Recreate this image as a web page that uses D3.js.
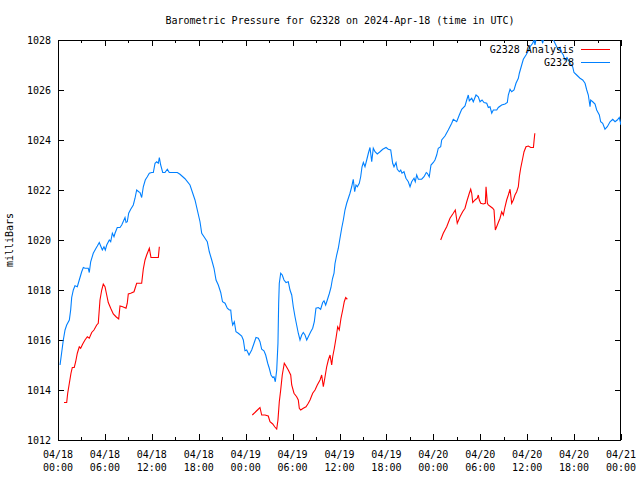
<!DOCTYPE html>
<html><head><meta charset="utf-8">
<script src="https://cdn.jsdelivr.net/npm/d3@7"></script>
<style>
body{margin:0;background:#fff;}
text{font-family:"DejaVu Sans Mono","Liberation Mono",monospace;font-size:10px;fill:#000;}
</style></head>
<body><svg id="c" width="640" height="480"></svg>
<script>
const titleText = "Barometric Pressure for G2328 on 2024-Apr-18 (time in UTC)";
const yLabel = "milliBars";
const seriesNames = ["G2328 Analysis", "G2328"];
const seriesColors = ["#ff0000", "#0080ff"];
const xTickDates = ["04/18","04/18","04/18","04/18","04/19","04/19","04/19","04/19","04/20","04/20","04/20","04/20","04/21"];
const xTickTimes = ["00:00","06:00","12:00","18:00","00:00","06:00","12:00","18:00","00:00","06:00","12:00","18:00","00:00"];
const yTicks = [1012,1014,1016,1018,1020,1022,1024,1026,1028];

// hours since 2024-04-18 00:00 UTC
const obsHours = [0.26,0.47,0.68,0.90,1.11,1.45,1.62,1.75,1.96,2.17,2.47,2.72,3.03,3.24,3.45,3.87,4.00,4.18,4.51,4.86,5.03,5.28,5.50,5.67,5.88,6.05,6.23,6.56,6.74,6.95,7.16,7.29,7.58,7.93,8.15,8.57,8.70,8.86,9.04,9.30,9.63,9.85,10.06,10.32,10.49,10.70,10.91,11.16,11.42,11.68,11.98,12.19,12.41,12.62,12.83,12.96,13.13,13.39,13.68,13.98,14.23,14.75,15.26,15.60,16.24,16.88,17.52,18.16,18.38,18.80,19.09,19.35,19.66,19.95,20.21,20.50,20.81,21.04,21.36,21.65,21.91,22.09,22.22,22.34,22.55,22.76,23.06,23.49,23.70,23.91,24.13,24.43,24.77,25.07,25.32,25.62,25.83,26.05,26.34,26.56,26.82,27.02,27.24,27.46,27.62,27.79,27.97,28.13,28.22,28.30,28.48,28.68,28.90,29.16,29.45,29.67,29.89,30.09,30.31,30.52,30.73,30.95,31.17,31.37,31.59,31.81,32.01,32.32,32.57,32.78,32.99,33.29,33.59,33.85,34.02,34.23,34.44,34.69,34.91,35.10,35.30,35.42,35.64,35.85,36.06,36.28,36.49,36.70,36.92,37.13,37.34,37.56,37.76,37.94,38.11,38.28,38.53,38.71,38.88,39.05,39.26,39.48,39.69,39.90,40.12,40.32,40.54,40.83,41.18,41.53,41.95,42.24,42.55,42.80,42.97,43.23,43.39,43.65,43.83,43.99,44.25,44.50,44.80,45.02,45.23,45.53,45.69,45.87,46.08,46.51,46.81,47.10,47.23,47.48,47.70,48.00,48.21,48.43,48.63,48.94,49.07,49.49,49.91,50.35,50.55,50.99,51.32,51.63,52.05,52.27,52.47,52.60,52.91,53.11,53.46,53.75,53.97,54.23,54.48,54.83,55.03,55.25,55.47,55.67,56.11,56.31,56.74,57.17,57.46,57.59,57.81,58.02,58.32,58.57,58.87,59.00,59.30,59.51,59.85,60.15,60.36,60.71,60.87,61.00,61.22,61.64,61.98,62.15,62.54,63.05,63.56,63.78,63.98,64.20,64.42,64.62,64.84,65.09,65.48,65.82,65.99,66.33,66.76,67.10,67.40,67.62,67.82,68.04,68.12,68.38,68.68,68.89,69.23,69.40,69.66,69.95,70.25,70.60,70.94,71.24,71.52,71.78,72.00];
const obsValues = [1015.0,1015.5,1016.0,1016.4,1016.6,1016.8,1017.2,1017.7,1018.0,1018.17,1018.13,1018.4,1018.73,1018.9,1018.87,1018.87,1018.7,1019.13,1019.47,1019.67,1019.76,1019.9,1019.73,1019.6,1019.73,1019.6,1019.8,1020.0,1019.93,1020.27,1020.13,1020.27,1020.5,1020.5,1020.6,1020.9,1020.7,1020.73,1021.07,1021.23,1021.4,1021.67,1022.0,1021.93,1021.9,1021.7,1022.13,1022.4,1022.53,1022.67,1022.7,1022.7,1023.07,1023.13,1023.07,1023.3,1023.0,1022.7,1022.7,1022.83,1022.7,1022.7,1022.7,1022.63,1022.45,1022.2,1021.6,1020.73,1020.27,1020.07,1019.93,1019.53,1019.2,1018.87,1018.4,1018.2,1017.9,1017.53,1017.47,1017.27,1017.2,1017.2,1016.8,1016.6,1016.73,1016.33,1016.27,1016.16,1016.0,1015.57,1015.6,1015.4,1015.6,1015.87,1016.1,1016.07,1015.93,1015.63,1015.57,1015.4,1015.07,1014.87,1014.6,1014.5,1014.53,1014.33,1014.8,1015.87,1017.47,1018.27,1018.67,1018.6,1018.4,1018.3,1018.33,1018.0,1017.8,1017.33,1016.93,1016.6,1016.27,1016.0,1016.2,1016.3,1016.2,1016.0,1016.13,1016.33,1016.47,1016.73,1017.27,1017.3,1017.23,1017.5,1017.57,1017.4,1017.6,1017.85,1018.1,1018.45,1018.67,1019.05,1019.4,1019.67,1020.07,1020.47,1020.8,1021.2,1021.47,1021.67,1021.87,1022.13,1022.43,1021.93,1022.2,1022.13,1022.27,1022.53,1022.93,1023.1,1022.93,1023.2,1023.47,1023.7,1023.13,1023.67,1023.53,1023.44,1023.53,1023.63,1023.7,1023.63,1023.6,1023.07,1022.93,1023.1,1022.83,1022.73,1022.8,1022.67,1022.73,1022.47,1022.33,1022.13,1022.33,1022.47,1022.33,1022.6,1022.43,1022.43,1022.53,1022.7,1022.67,1022.53,1023.0,1023.1,1023.2,1023.4,1023.67,1023.73,1024.0,1024.16,1024.4,1024.67,1024.83,1024.73,1025.0,1025.23,1025.36,1025.6,1025.8,1025.57,1025.67,1025.53,1025.8,1025.73,1025.53,1025.6,1025.5,1025.47,1025.3,1025.33,1025.07,1025.2,1025.2,1025.3,1025.4,1025.44,1025.5,1025.8,1026.03,1025.93,1026.0,1026.27,1026.47,1026.67,1027.0,1027.23,1027.4,1027.57,1027.73,1027.87,1028.0,1027.8,1028.2,1028.3,1027.87,1028.1,1028.3,1028.2,1027.87,1027.73,1027.6,1027.7,1027.5,1027.4,1027.2,1027.3,1027.07,1026.93,1026.7,1026.6,1026.47,1026.4,1026.27,1026.0,1025.8,1025.33,1025.6,1025.53,1025.44,1025.2,1025.0,1024.73,1024.67,1024.43,1024.53,1024.73,1024.83,1024.73,1024.8,1024.9,1024.6];

// analysis series; null marks a gap between runs
const anaHours = [0.77,1.11,1.24,1.45,1.66,1.83,2.08,2.26,2.47,2.72,2.90,3.16,3.45,3.75,4.00,4.31,4.60,4.95,5.15,5.37,5.59,5.79,6.01,6.23,6.43,6.74,7.07,7.42,7.76,7.93,8.27,8.70,8.86,8.99,9.30,9.72,10.06,10.70,10.91,11.13,11.34,11.68,11.89,12.83,12.96,null,
24.85,25.41,25.83,26.05,26.47,26.89,27.11,27.46,27.71,27.97,28.13,28.30,28.48,28.68,28.94,29.16,29.45,29.76,29.89,30.18,30.52,30.73,30.86,31.04,31.37,31.72,32.01,32.23,32.57,32.87,33.16,33.51,33.72,33.93,34.15,34.36,34.57,34.79,35.00,35.13,35.34,35.55,35.77,35.97,36.19,36.41,36.61,36.79,37.00,null,
48.94,49.27,49.71,50.13,50.55,50.81,51.06,51.41,51.75,52.05,52.27,52.60,52.78,52.91,53.04,53.33,53.62,53.75,53.88,54.06,54.39,54.65,54.74,54.91,55.03,55.34,55.59,55.76,55.93,56.10,56.31,56.53,56.74,56.95,57.17,57.38,57.59,57.81,58.02,58.23,58.44,58.66,58.87,59.00,59.17,59.43,59.60,59.85,60.15,60.46,60.80,60.89,60.98];
const anaValues = [1013.5,1013.5,1013.87,1014.27,1014.67,1014.9,1014.9,1015.13,1015.47,1015.73,1015.67,1015.84,1016.0,1016.13,1016.07,1016.3,1016.4,1016.6,1016.67,1017.6,1018.0,1018.24,1018.13,1017.8,1017.5,1017.27,1017.04,1016.93,1016.84,1017.36,1017.33,1017.27,1017.47,1017.84,1017.87,1017.93,1018.27,1018.27,1018.84,1019.2,1019.4,1019.67,1019.3,1019.3,1019.73,null,
1013.0,1013.17,1013.3,1013.0,1013.0,1012.96,1012.73,1012.64,1012.53,1012.44,1012.8,1013.53,1014.0,1014.6,1015.07,1014.96,1014.8,1014.6,1014.2,1013.87,1013.73,1013.6,1013.27,1013.2,1013.27,1013.33,1013.47,1013.6,1013.87,1014.0,1014.2,1014.4,1014.6,1014.13,1014.53,1014.93,1015.2,1015.4,1015.0,1015.33,1015.67,1016.07,1016.53,1016.4,1016.87,1017.2,1017.53,1017.7,1017.63,null,
1020.0,1020.27,1020.53,1020.87,1021.07,1021.2,1020.67,1020.93,1021.13,1021.27,1021.53,1021.87,1022.03,1021.87,1021.5,1021.6,1021.67,1021.8,1021.6,1021.47,1021.44,1021.47,1022.13,1021.47,1021.4,1021.33,1021.27,1021.2,1020.4,1020.53,1020.7,1020.87,1021.13,1021.0,1021.33,1021.6,1021.8,1022.03,1021.47,1021.6,1021.8,1021.93,1022.13,1022.53,1022.87,1023.27,1023.53,1023.73,1023.76,1023.7,1023.7,1024.0,1024.27];

const svg = d3.select("#c");
const L = 58, R = 621, T = 40, B = 440;
const x = d3.scaleLinear().domain([0, 72]).range([L, R]);
const y = d3.scaleLinear().domain([1012, 1028]).range([B, T]);

svg.append("defs").append("clipPath").attr("id","clip")
  .append("rect").attr("x",L).attr("y",T).attr("width",R-L).attr("height",B-T);

// title
svg.append("text").attr("x", 340).attr("y", 24).attr("text-anchor","middle").text(titleText);
// y label
svg.append("text").attr("transform","translate(13,240) rotate(-90)").attr("text-anchor","middle").text(yLabel);

const majorX = d3.range(0, 73, 6);
const minorX = d3.range(3, 72, 6);

function styleAxis(g){
  g.select(".domain").remove();
  g.selectAll("line").attr("stroke","#000").attr("shape-rendering","crispEdges");
}
// bottom
svg.append("g").attr("transform",`translate(0,${B})`)
  .call(d3.axisBottom(x).tickValues(majorX).tickSize(-6).tickFormat("")).call(styleAxis);
svg.append("g").attr("transform",`translate(0,${B})`)
  .call(d3.axisBottom(x).tickValues(minorX).tickSize(-3).tickFormat("")).call(styleAxis);
// top
svg.append("g").attr("transform",`translate(0,${T})`)
  .call(d3.axisTop(x).tickValues(majorX).tickSize(-6).tickFormat("")).call(styleAxis);
svg.append("g").attr("transform",`translate(0,${T})`)
  .call(d3.axisTop(x).tickValues(minorX).tickSize(-3).tickFormat("")).call(styleAxis);
// left / right
svg.append("g").attr("transform",`translate(${L},0)`)
  .call(d3.axisLeft(y).tickValues(yTicks).tickSize(-6).tickPadding(7).tickFormat(d3.format("d")))
  .call(styleAxis).call(g=>g.selectAll("text").attr("font-family",null).attr("font-size",null));
svg.append("g").attr("transform",`translate(${R},0)`)
  .call(d3.axisRight(y).tickValues(yTicks).tickSize(-6).tickFormat("")).call(styleAxis);

// x tick labels (two lines)
const xl = svg.append("g");
majorX.forEach((h,i)=>{
  const t = xl.append("text").attr("x", x(h)).attr("text-anchor","middle");
  t.append("tspan").attr("x", x(h)).attr("y", 458).text(xTickDates[i]);
  t.append("tspan").attr("x", x(h)).attr("y", 471).text(xTickTimes[i]);
});

// frame
svg.append("rect").attr("x",L+0.5).attr("y",T+0.5).attr("width",R-L-1).attr("height",B-T)
  .attr("fill","none").attr("stroke","#000").attr("shape-rendering","crispEdges");

// data lines
const anaData = anaHours.map((h,i)=>({h, v: anaValues[i]}));
const obsData = obsHours.map((h,i)=>({h, v: obsValues[i]}));
const line = d3.line().defined(d=>d.h!==null && d.v!==null).x(d=>x(d.h)).y(d=>y(d.v));
const plot = svg.append("g").attr("clip-path","url(#clip)");

// legend
const lg = svg.append("g");
[0,1].forEach(i=>{
  const yy = 49 + i*13;
  lg.append("text").attr("x", 574).attr("y", yy+4).attr("text-anchor","end").text(seriesNames[i]);
  lg.append("line").attr("x1",581).attr("x2",610).attr("y1",yy).attr("y2",yy)
    .attr("stroke",seriesColors[i]).attr("stroke-width",1).attr("shape-rendering","crispEdges");
});

plot.append("path").datum(anaData).attr("d", line).attr("fill","none")
  .attr("stroke", seriesColors[0]).attr("stroke-width",1.1);
plot.append("path").datum(obsData).attr("d", line).attr("fill","none")
  .attr("stroke", seriesColors[1]).attr("stroke-width",1.1);
</script></body></html>
